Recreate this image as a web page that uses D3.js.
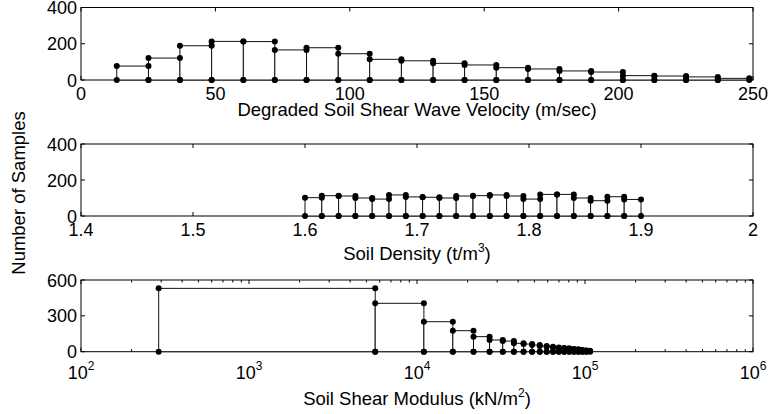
<!DOCTYPE html>
<html><head><meta charset="utf-8">
<script src="https://cdn.jsdelivr.net/npm/d3@7"></script>
<style>
html,body{margin:0;padding:0;background:#fff;}
svg text{font-family:"Liberation Sans",Arial,sans-serif;fill:#000;}
</style></head>
<body>
<svg id="c" width="769" height="414"></svg>
<script>
// ---------- data ----------
const velocityEdges = [13.3, 25.1, 36.8, 48.6, 60.4, 72.1, 83.9, 95.7, 107.4, 119.2, 131.0, 142.7, 154.5, 166.3, 178.0, 189.8, 201.6, 213.3, 225.1, 236.9, 248.6];
const velocityCounts = [77, 121, 189, 213, 212, 166, 178, 145, 114, 106, 92, 83, 68, 61, 50, 44, 24, 22, 17, 9];

const densityEdges = [1.600, 1.615, 1.630, 1.645, 1.660, 1.675, 1.690, 1.705, 1.720, 1.735, 1.750, 1.765, 1.780, 1.795, 1.810, 1.825, 1.840, 1.855, 1.870, 1.885, 1.900];
const densityCounts = [102, 113, 111, 100, 94, 117, 106, 104, 100, 111, 113, 117, 111, 94, 120, 120, 100, 85, 107, 92];

const modulusEdges = [290, 5640, 10990, 16340, 21690, 27040, 32390, 37740, 43090, 48440, 53790, 59140, 64490, 69840, 75190, 80540, 85890, 91240, 96590, 101940, 107290];
const modulusCounts = [530, 405, 251, 176, 126, 98, 89, 70, 64, 56, 47, 42, 36, 31, 28, 22, 20, 14, 11, 8];

const velocityTicks = [0, 50, 100, 150, 200, 250];
const densityTicks = [1.4, 1.5, 1.6, 1.7, 1.8, 1.9, 2];
const densityTickLabels = ["1.4", "1.5", "1.6", "1.7", "1.8", "1.9", "2"];
const modulusTicks = [1e2, 1e3, 1e4, 1e5, 1e6];
const modulusExponents = ["2", "3", "4", "5", "6"];
const yTicksTop = [0, 200, 400];
const yTicksMid = [0, 200, 400];
const yTicksBot = [0, 300, 600];

const yLabel = "Number of Samples";

// ---------- layout ----------
const svg = d3.select("#c");
const L = 81, R = 753;
const FS = 18;     // tick labels
const LFS = 18.5;  // axis labels
const TL = 4;

function panel(cfg) {
  const g = svg.append("g");
  const x = cfg.x;
  const y = d3.scaleLinear().domain(cfg.ydom).range([cfg.bottom, cfg.top]);
  // box
  g.append("rect").attr("x", L).attr("y", cfg.top).attr("width", R - L).attr("height", cfg.bottom - cfg.top)
    .attr("fill", "none").attr("stroke", "#000").attr("stroke-width", 1);
  // ticks (inward, both sides)
  const tk = g.append("g").attr("stroke", "#000").attr("stroke-width", 1);
  cfg.xticks.forEach(t => {
    const px = x(t);
    tk.append("line").attr("x1", px).attr("x2", px).attr("y1", cfg.bottom).attr("y2", cfg.bottom - TL);
    tk.append("line").attr("x1", px).attr("x2", px).attr("y1", cfg.top).attr("y2", cfg.top + TL);
  });
  (cfg.minor || []).forEach(t => {
    const px = x(t);
    tk.append("line").attr("x1", px).attr("x2", px).attr("y1", cfg.bottom).attr("y2", cfg.bottom - 2.5);
    tk.append("line").attr("x1", px).attr("x2", px).attr("y1", cfg.top).attr("y2", cfg.top + 2.5);
  });
  cfg.yticks.forEach(t => {
    const py = y(t);
    tk.append("line").attr("x1", L).attr("x2", L + TL).attr("y1", py).attr("y2", py);
    tk.append("line").attr("x1", R).attr("x2", R - TL).attr("y1", py).attr("y2", py);
  });
  // y tick labels
  cfg.yticks.forEach(t => {
    g.append("text").attr("x", L - 4).attr("y", y(t) + 6.5).attr("text-anchor", "end")
      .attr("font-size", FS).text(t);
  });
  // x tick labels
  cfg.xticks.forEach((t, i) => {
    const tx = g.append("text").attr("x", x(t)).attr("y", cfg.bottom + cfg.tickDy)
      .attr("text-anchor", "middle").attr("font-size", FS);
    if (cfg.sup) {
      tx.append("tspan").text("10");
      tx.append("tspan").attr("font-size", 12).attr("dy", -9).text(cfg.xlabels[i]);
    } else tx.text(cfg.xlabels[i]);
  });
  // axis label
  const lab = g.append("text").attr("x", (L + R) / 2).attr("y", cfg.labelY)
    .attr("text-anchor", "middle").attr("font-size", LFS);
  lab.append("tspan").text(cfg.label[0]);
  if (cfg.label.length > 1) {
    lab.append("tspan").attr("font-size", 12).attr("dy", -8).text(cfg.label[1]);
    lab.append("tspan").attr("dy", 8).text(cfg.label[2]);
  }
  // bars (white-faced, drawn over the ticks)
  const bars = cfg.counts.map((c, i) => ({ x0: cfg.edges[i], x1: cfg.edges[i + 1], c }));
  g.append("g").selectAll("rect").data(bars).join("rect")
    .attr("x", d => x(d.x0)).attr("width", d => x(d.x1) - x(d.x0))
    .attr("y", d => y(d.c)).attr("height", d => y(0) - y(d.c))
    .attr("fill", "#fff").attr("stroke", "#111").attr("stroke-width", 1);
  // markers at corners
  const pts = [];
  bars.forEach(d => {
    pts.push([d.x0, 0], [d.x0, d.c], [d.x1, d.c], [d.x1, 0]);
  });
  g.append("g").selectAll("circle").data(pts).join("circle")
    .attr("cx", d => x(d[0])).attr("cy", d => y(d[1])).attr("r", 3).attr("fill", "#000");
}

// top panel
panel({
  x: d3.scaleLinear().domain([0, 250]).range([L, R]),
  ydom: [0, 400], top: 7.5, bottom: 80,
  xticks: velocityTicks, xlabels: velocityTicks.map(String),
  yticks: yTicksTop, tickDy: 20,
  label: ["Degraded Soil Shear Wave Velocity (m/sec)"], labelY: 115.5,
  edges: velocityEdges, counts: velocityCounts
});

// middle panel
panel({
  x: d3.scaleLinear().domain([1.4, 2]).range([L, R]),
  ydom: [0, 400], top: 144, bottom: 216,
  xticks: densityTicks, xlabels: densityTickLabels,
  yticks: yTicksMid, tickDy: 20,
  label: ["Soil Density (t/m", "3", ")"], labelY: 260,
  edges: densityEdges, counts: densityCounts
});

// bottom panel
const minorLog = [];
[1e2, 1e3, 1e4, 1e5].forEach(d => { for (let k = 2; k <= 9; k++) minorLog.push(d * k); });
panel({
  x: d3.scaleLog().domain([1e2, 1e6]).range([L, R]),
  ydom: [0, 600], top: 280, bottom: 351.7,
  xticks: modulusTicks, xlabels: modulusExponents, sup: true, minor: minorLog,
  yticks: yTicksBot, tickDy: 27,
  label: ["Soil Shear Modulus (kN/m", "2", ")"], labelY: 405,
  edges: modulusEdges, counts: modulusCounts
});

// y label
svg.append("text").attr("transform", "translate(25,193) rotate(-90)")
  .attr("text-anchor", "middle").attr("font-size", LFS).text(yLabel);
</script>
</body></html>
